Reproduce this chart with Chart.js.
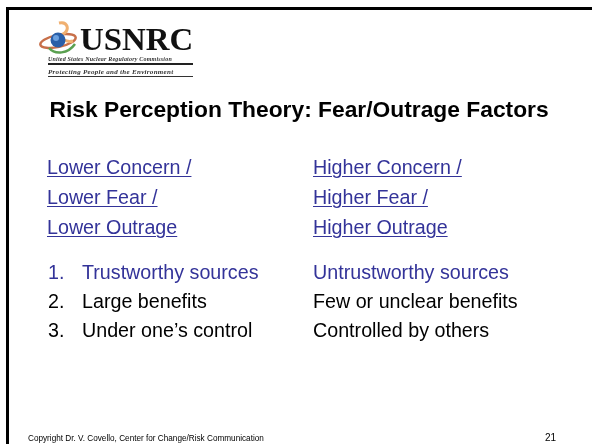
<!DOCTYPE html>
<html>
<head>
<meta charset="utf-8">
<script src="https://cdn.jsdelivr.net/npm/chart.js@4/dist/chart.umd.min.js"></script>
<style>
  html, body { margin:0; padding:0; background:#fff; }
  #wrap { position:relative; width:592px; height:444px; overflow:hidden; font-family:"Liberation Sans", Arial, sans-serif; }
  #frame { position:absolute; left:0; top:0; }
  .t { position:absolute; white-space:nowrap; }
  .link { color:#333399; text-decoration:underline; text-decoration-thickness:1px; text-underline-offset:2px; font-size:19.7px; line-height:19.7px; }
  .item { font-size:19.7px; line-height:19.7px; color:#000; }
  .blue { color:#333399; }
</style>
</head>
<body>
<div id="wrap">
  <canvas id="frame" width="592" height="444"></canvas>
  <div id="content"></div>
</div>
<script>
// ---- slide content (text data) ----
const logoName = "USNRC";
const logoLines = ["United States Nuclear Regulatory Commission", "Protecting People and the Environment"];
const title = "Risk Perception Theory: Fear/Outrage Factors";
const lowerHeadings = ["Lower Concern /", "Lower Fear /", "Lower Outrage"];
const higherHeadings = ["Higher Concern /", "Higher Fear /", "Higher Outrage"];
const itemNumbers = ["1.", "2.", "3."];
const lowerFactors = ["Trustworthy sources", "Large benefits", "Under one\u2019s control"];
const higherFactors = ["Untrustworthy sources", "Few or unclear benefits", "Controlled by others"];
const highlightedRows = [true, false, false];
const footer = "Copyright Dr. V. Covello, Center for Change/Risk Communication";
const slideNumber = "21";

// ---- frame drawn by Chart.js axes (top x-axis + left y-axis borders) ----
new Chart(document.getElementById('frame'), {
  type: 'line',
  data: { labels: lowerHeadings, datasets: [{ data: [], borderWidth: 0, pointRadius: 0 }] },
  options: {
    responsive: false, animation: false,
    layout: { padding: { left: 7, top: 8.5, right: 0, bottom: 0 } },
    plugins: { legend: { display: false }, tooltip: { enabled: false } },
    scales: {
      x: { position: 'top', grid: { display: false, drawTicks: false }, ticks: { display: false },
           border: { display: true, color: '#000', width: 3 } },
      y: { position: 'left', grid: { display: false, drawTicks: false }, ticks: { display: false },
           border: { display: true, color: '#000', width: 3 } }
    }
  }
});

// ---- text layout ----
const c = document.getElementById('content');
function add(html, cls, left, top, extra) {
  const d = document.createElement('div');
  d.className = 't ' + (cls || '');
  d.style.left = left + 'px'; d.style.top = top + 'px';
  if (extra) Object.assign(d.style, extra);
  d.innerHTML = html;
  c.appendChild(d);
  return d;
}
// logo icon
add('<svg width="42" height="36" viewBox="0 0 42 36">' +
    '<ellipse cx="19" cy="21" rx="18" ry="6" fill="none" stroke="#c8704a" stroke-width="2.5" transform="rotate(-12 19 21)"/>' +
    '<path d="M20 3 C29 1 31 10 24 14 C19 17 27 23 34 21" fill="none" stroke="#f0b070" stroke-width="3"/>' +
    '<path d="M10 28 C16 35 29 34 36 24" fill="none" stroke="#5aa050" stroke-width="2.5"/>' +
    '<circle cx="19" cy="20" r="7.5" fill="#2a5fa8"/>' +
    '<circle cx="17" cy="18" r="3" fill="#6aa0e0"/>' +
    '</svg>', '', 39, 20);
add(logoName, '', 80, 24, { fontFamily: '"Liberation Serif", "Times New Roman", serif', fontWeight: 'bold', fontSize: '31px', lineHeight:'31px', color: '#111', transform:'scaleX(1.06)', transformOrigin:'left top' });
add(logoLines[0], '', 48, 56, { fontFamily: '"Liberation Serif", serif', fontWeight: 'bold', fontStyle:'italic', fontSize: '6px', color: '#333', width:'145px', borderBottom:'2px solid #222', lineHeight:'7px', letterSpacing:'0.2px' });
add(logoLines[1], '', 48, 68, { fontFamily: '"Liberation Serif", serif', fontWeight: 'bold', fontStyle:'italic', fontSize: '7px', color: '#333', width:'145px', borderBottom:'1.5px solid #333', lineHeight:'8px', letterSpacing:'0.3px' });

// title
add(title, '', 49.5, 98.2, { fontWeight: 'bold', fontSize: '22.8px', lineHeight: '22.8px', color: '#000' });

// headings
const headTops = [157.5, 187.5, 217.5];
lowerHeadings.forEach((h, i) => add(h, 'link', 47, headTops[i]));
higherHeadings.forEach((h, i) => add(h, 'link', 313, headTops[i]));

// factor rows
const rowTops = [262.6, 291.8, 321.3];
lowerFactors.forEach((f, i) => {
  const cls = 'item' + (highlightedRows[i] ? ' blue' : '');
  add(itemNumbers[i], cls, 48, rowTops[i]);
  add(f, cls, 82, rowTops[i]);
  add(higherFactors[i], cls, 313, rowTops[i]);
});

// footer
add(footer, '', 28, 434.6, { fontSize: '8.2px', lineHeight: '8.2px', color: '#000' });
add(slideNumber, '', 545, 432.5, { fontSize: '10px', lineHeight: '10px', color: '#000' });
</script>
</body>
</html>
